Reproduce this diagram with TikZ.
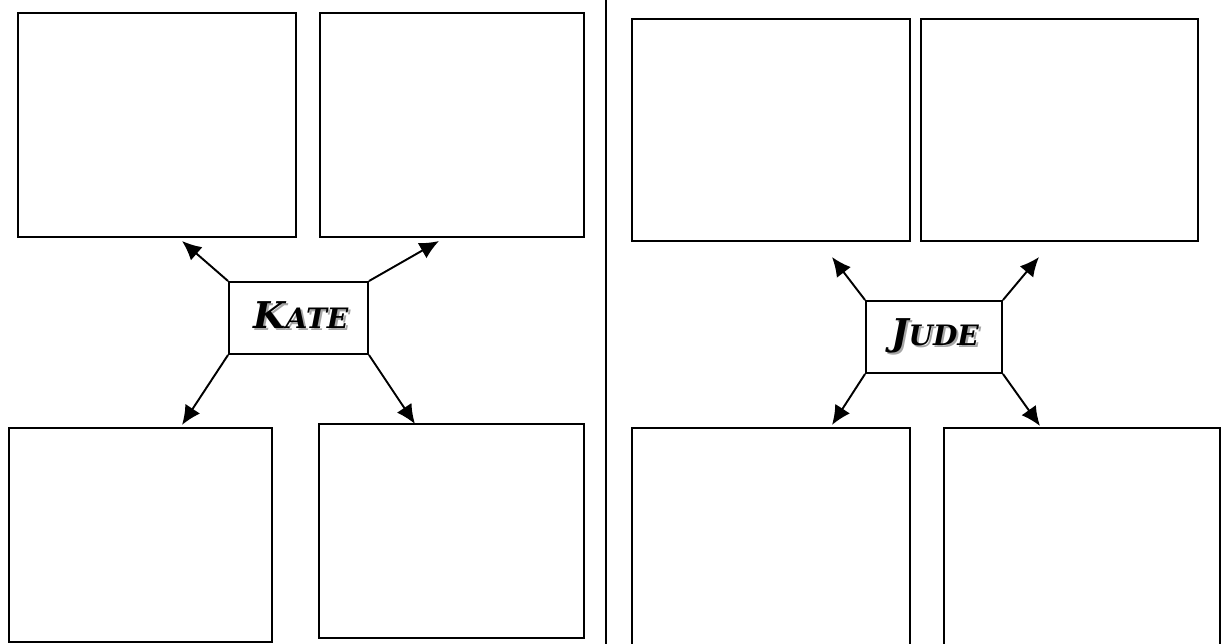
\documentclass[tikz,border=0pt]{standalone}
\usepackage{fontspec}
\newfontfamily\namefont{DejaVu Serif}
\usetikzlibrary{arrows.meta,fit}
% gray copy behind the text, a little down and right
\newcommand{\shadowed}[1]{\makebox[0pt][l]{\kern1.2pt\raisebox{-1.2pt}{\color{black!35}#1}}#1}
\newcommand{\capname}[2]{{\fontsize{21}{21}\selectfont #1}{\fontsize{16}{16}\selectfont #2}}
\begin{document}
\begin{tikzpicture}[x=0.02cm,y=-0.02cm,
    panel/.style={draw,line width=1.1pt,inner sep=0pt},
    namebox/.style={draw,line width=1.1pt,inner sep=0pt},
    nametext/.style={inner sep=0pt,font=\namefont\bfseries\itshape},
    link/.style={line width=1.1pt,-{Latex[length=11pt,width=10pt]}}]
\useasboundingbox (0,0) rectangle (1222,644);
\clip (0,0) rectangle (1222,644);
% left page
\node[panel,fit={(18,13) (296,237)}] (k1) {};
\node[panel,fit={(320,13) (584,237)}] (k2) {};
\node[panel,fit={(9,428) (272,642)}] (k3) {};
\node[panel,fit={(319,424) (584,638)}] (k4) {};
\node[namebox,fit={(229,282) (368,354)}] (kate) {};
\node[nametext] (katename) at (301,316) {\shadowed{\capname{K}{ATE}}};
\coordinate (ktl) at (182,241);
\coordinate (ktr) at (439,241);
\coordinate (kbl) at (182,425);
\coordinate (kbr) at (415,424);
\foreach \a/\t in {north west/ktl,north east/ktr,south west/kbl,south east/kbr}
    \draw[link] (kate.\a) -- (\t);
% middle line
\draw[line width=1.6pt] (606,0) -- (606,644);
% right page
\node[panel,fit={(632,19) (910,241)}] (j1) {};
\node[panel,fit={(921,19) (1198,241)}] (j2) {};
\node[panel,fit={(632,428) (910,660)}] (j3) {};
\node[panel,fit={(944,428) (1220,660)}] (j4) {};
\node[namebox,fit={(866,301) (1002,373)}] (jude) {};
\node[nametext] (judename) at (935,337) {\shadowed{\capname{J}{UDE}}};
\coordinate (jtl) at (832,257);
\coordinate (jtr) at (1039,257);
\coordinate (jbl) at (832,425);
\coordinate (jbr) at (1040,426);
\foreach \a/\t in {north west/jtl,north east/jtr,south west/jbl,south east/jbr}
    \draw[link] (jude.\a) -- (\t);
\end{tikzpicture}
\end{document}
